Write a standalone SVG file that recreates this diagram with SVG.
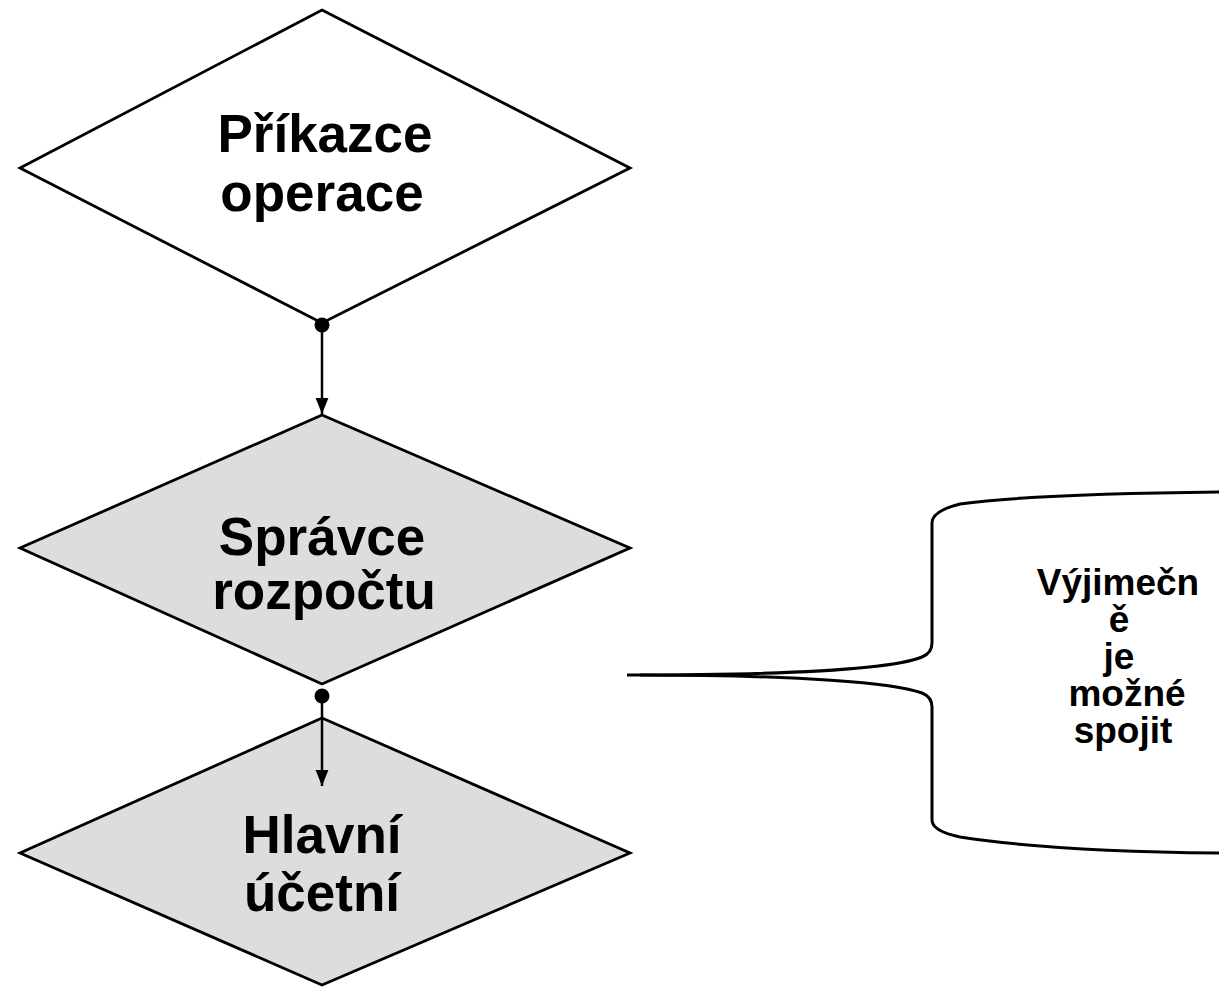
<svg xmlns="http://www.w3.org/2000/svg" width="1219" height="987" viewBox="0 0 1219 987">
  <style>
    .diamond { stroke: #000; stroke-width: 2.8; stroke-linejoin: miter; }
    .plain { fill: #ffffff; }
    .shaded { fill: #dddddd; }
    .label { font-family: "Liberation Sans", Arial, sans-serif; font-weight: bold; font-size: 53px; text-anchor: middle; fill: #000; }
    .note { font-family: "Liberation Sans", Arial, sans-serif; font-weight: bold; font-size: 37px; text-anchor: middle; fill: #000; }
    .wire { stroke: #000; stroke-width: 2.5; fill: none; }
    .brace { stroke: #000; stroke-width: 3; fill: none; }
  </style>
  <defs>
    <marker id="arrow" viewBox="0 0 10 10" refX="10" refY="5" markerWidth="6.4" markerHeight="6.4" markerUnits="strokeWidth" orient="auto">
      <path d="M0,1 L10,5 L0,9 z" fill="#000"/>
    </marker>
  </defs>
  <rect width="1219" height="987" fill="#ffffff"/>

  <g id="node-prikazce">
    <polygon class="diamond plain" points="322,10 630,168 322,323 20,168"/>
    <text class="label" x="325" y="152">Příkazce</text>
    <text class="label" x="322" y="211">operace</text>
  </g>

  <g id="node-spravce">
    <polygon class="diamond shaded" points="322,415 630,548 322,684 20,548"/>
    <text class="label" x="322" y="555">Správce</text>
    <text class="label" x="324" y="609">rozpočtu</text>
  </g>

  <g id="node-hlavni">
    <polygon class="diamond shaded" points="322,718 630,853 322,985 20,853"/>
    <text class="label" x="322" y="853">Hlavní</text>
    <text class="label" x="322" y="911">účetní</text>
  </g>

  <g id="connectors">
    <line class="wire" x1="322" y1="325" x2="322" y2="414" marker-end="url(#arrow)"/>
    <circle cx="322" cy="325" r="7.5" fill="#000"/>
    <line class="wire" x1="322" y1="696" x2="322" y2="786" marker-end="url(#arrow)"/>
    <circle cx="322" cy="696" r="7.5" fill="#000"/>
  </g>

  <g id="note-callout">
    <path class="brace" d="M627,675 C800,675 895,668 922,657 Q932,653 932,643 L932,523 Q932,511 960,504 C1020,496 1120,493 1219,492"/>
    <path class="brace" d="M640,675 C800,675 895,683 922,693 Q932,697 932,707 L932,820 Q932,831 960,837 C1030,848 1120,852 1219,853"/>
    <text class="note" x="1118" y="595">Výjimečn</text>
    <text class="note" x="1119" y="632">ě</text>
    <text class="note" x="1119" y="669">je</text>
    <text class="note" x="1127" y="706">možné</text>
    <text class="note" x="1123" y="743">spojit</text>
  </g>
</svg>
